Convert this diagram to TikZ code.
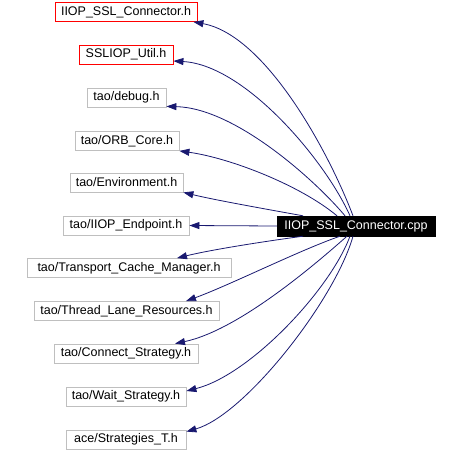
\documentclass[tikz,border=0pt]{standalone}
\usepackage{fontspec}
\setmainfont{Liberation Sans}
\usetikzlibrary{arrows.meta}
\definecolor{edgeblue}{RGB}{25,25,112}
\definecolor{boxgray}{RGB}{191,191,191}
\begin{document}
\begin{tikzpicture}[x=1pt,y=-1pt,
  font=\fontsize{12.5}{14}\selectfont,
  filebox/.style={draw=boxgray, line width=0.8pt, inner sep=0pt, minimum height=19pt, fill=white},
  redbox/.style={filebox, draw=red},
  mainbox/.style={draw=black, fill=black, text=white, inner sep=0pt, minimum width=158pt, minimum height=20pt},
  edge/.style={draw=edgeblue, line width=0.8pt, -{Triangle[length=10pt,width=7pt]}, fill=none}
]
\useasboundingbox (0,0) rectangle (460,451);

\node[redbox, minimum width=142pt] (b1) at (126,12) {IIOP\_SSL\_Connector.h};
\node[redbox, minimum width=94pt] (b2) at (126,54.5) {SSLIOP\_Util.h};
\node[filebox, minimum width=79pt] (b3) at (126.5,97.5) {tao/debug.h};
\node[filebox, minimum width=104pt] (b4) at (127,141) {tao/ORB\_Core.h};
\node[filebox, minimum width=113pt] (b5) at (126.5,182.5) {tao/Environment.h};
\node[filebox, minimum width=126pt] (b6) at (126,225.5) {tao/IIOP\_Endpoint.h};
\node[filebox, minimum width=204pt] (b7) at (129,268) {tao/Transport\_Cache\_Manager.h};
\node[filebox, minimum width=185pt] (b8) at (126.5,311) {tao/Thread\_Lane\_Resources.h};
\node[filebox, minimum width=144pt] (b9) at (126,353.5) {tao/Connect\_Strategy.h};
\node[filebox, minimum width=120pt] (b10) at (126,396.5) {tao/Wait\_Strategy.h};
\node[filebox, minimum width=120pt] (b11) at (126,439.5) {ace/Strategies\_T.h};

\node[mainbox] (m) at (356,226) {IIOP\_SSL\_Connector.cpp};

\draw[edge] ([xshift=-3pt]m.north) .. controls (328,150) and (265,35) .. ([xshift=-4pt]b1.south east);
\draw[edge] ([xshift=-6pt]m.north) .. controls (325,160) and (245,65) .. ([yshift=-6.5pt]b2.east);
\draw[edge] ([xshift=-11pt]m.north) .. controls (315,180) and (235,108) .. ([yshift=1pt]b3.south east);
\draw[edge] ([xshift=-19pt]m.north) .. controls (300,185) and (230,158) .. (b4.south east);
\draw[edge] ([xshift=-53pt]m.north) .. controls (260,208) and (215,200) .. (b5.south east);
\draw[edge] (m.west) -- (b6.east);
\draw[edge] ([xshift=-53pt]m.south) .. controls (260,242) and (210,250) .. ([xshift=48pt]b7.north);
\draw[edge] ([xshift=-16pt]m.south) .. controls (300,250) and (230,285) .. ([xshift=59.5pt]b8.north);
\draw[edge] ([xshift=-9pt]m.south) .. controls (320,260) and (240,330) .. ([xshift=49pt]b9.north);
\draw[edge] ([xshift=-6pt]m.south) .. controls (330,290) and (250,375) .. ([yshift=5.5pt]b10.east);
\draw[edge] ([xshift=-3pt]m.south) .. controls (335,300) and (245,415) .. ([yshift=-2pt]b11.north east);
\end{tikzpicture}
\end{document}
